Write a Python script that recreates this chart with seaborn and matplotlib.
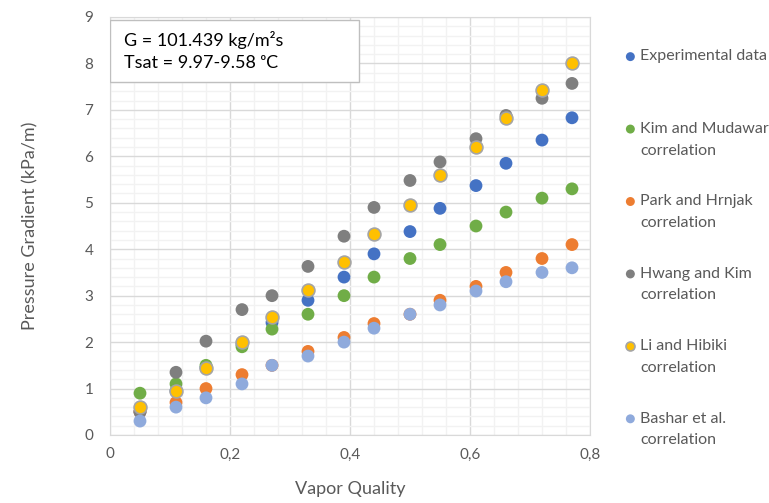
import pandas as pd
import matplotlib.pyplot as plt
import seaborn as sns
from matplotlib.patches import Rectangle
from matplotlib.offsetbox import HPacker
from matplotlib.ticker import MultipleLocator, FuncFormatter

# vapor quality points
quality = [0.05, 0.11, 0.16, 0.22, 0.27, 0.33, 0.39, 0.44, 0.50, 0.55, 0.61, 0.66, 0.72, 0.77]

experimental = [0.50, 0.95, 1.45, 1.95, 2.42, 2.90, 3.40, 3.90, 4.38, 4.88, 5.37, 5.85, 6.35, 6.83]
kim_mudawar = [0.90, 1.10, 1.50, 1.90, 2.28, 2.60, 3.00, 3.40, 3.80, 4.10, 4.50, 4.80, 5.10, 5.30]
park_hrnjak = [0.50, 0.70, 1.00, 1.30, 1.50, 1.80, 2.10, 2.40, 2.60, 2.90, 3.20, 3.50, 3.80, 4.10]
hwang_kim = [0.50, 1.35, 2.02, 2.70, 3.00, 3.63, 4.28, 4.90, 5.48, 5.88, 6.38, 6.88, 7.25, 7.57]
li_hibiki = [0.60, 0.95, 1.45, 2.00, 2.55, 3.12, 3.72, 4.33, 4.95, 5.60, 6.20, 6.82, 7.42, 8.00]
bashar = [0.30, 0.60, 0.80, 1.10, 1.50, 1.70, 2.00, 2.30, 2.60, 2.80, 3.10, 3.30, 3.50, 3.60]

series = {
    "Experimental data\n ": experimental,
    "Kim and Mudawar\ncorrelation": kim_mudawar,
    "Park and Hrnjak\ncorrelation": park_hrnjak,
    "Hwang and Kim\ncorrelation": hwang_kim,
    "Li and Hibiki\ncorrelation": li_hibiki,
    "Bashar et al.\ncorrelation": bashar,
}
colors = ["#4472C4", "#70AD47", "#ED7D31", "#7F7F7F", "#FFC000", "#8FAADC"]
edges = ["none", "none", "none", "none", "#A5A5A5", "none"]

df = pd.DataFrame([
    {"quality": q, "dp": v, "name": name}
    for name, vals in series.items() for q, v in zip(quality, vals)
])

sns.set_style("white")
plt.rcParams['font.family'] = ['Lato', 'DejaVu Sans']
txt = "#595959"

fig = plt.figure(figsize=(7.69, 5.03), dpi=100)
ax = fig.add_axes([110 / 769, 1 - 435 / 503, 480 / 769, 418 / 503])

for (name, _), c, e in zip(series.items(), colors, edges):
    sns.scatterplot(data=df[df["name"] == name], x="quality", y="dp", color=c,
                    edgecolor=e, linewidth=1.2, s=85, label=name, ax=ax, zorder=3)

ax.set_xlim(0, 0.8)
ax.set_ylim(0, 9)
ax.xaxis.set_major_locator(MultipleLocator(0.2))
ax.xaxis.set_minor_locator(MultipleLocator(0.04))
ax.yaxis.set_major_locator(MultipleLocator(1))
ax.yaxis.set_minor_locator(MultipleLocator(0.2))
ax.xaxis.set_major_formatter(FuncFormatter(lambda v, p: "0" if v == 0 else f"{v:.1f}".replace(".", ",")))
ax.grid(which="major", color="#D9D9D9", linewidth=1.0, zorder=1)
ax.grid(which="minor", color="#F2F2F2", linewidth=1.0, zorder=0)
ax.set_axisbelow(True)
for s in ax.spines.values():
    s.set_color("#D9D9D9")
ax.tick_params(which="both", length=0, labelsize=11, colors=txt)
ax.tick_params(axis="y", pad=12)
ax.tick_params(axis="x", pad=9)

ax.set_xlabel("Vapor Quality", fontsize=13, color=txt, labelpad=14)
ax.set_ylabel("Pressure Gradient (kPa/m)", fontsize=13, color=txt, labelpad=33)

# info box
ax.add_patch(Rectangle((0, 1 - 65 / 418), 249 / 480, 62 / 418, transform=ax.transAxes,
                       facecolor="white", edgecolor="#BFBFBF", linewidth=1, zorder=5))
ax.text(14 / 480, 1 - 34 / 418, "G = 101.439 kg/m²s\nTsat = 9.97-9.58 ᵒC", transform=ax.transAxes,
        ha="left", va="center", fontsize=13, color="black", linespacing=1.4, zorder=6)

ax.legend_.remove()
handles, labels = ax.get_legend_handles_labels()
leg = fig.legend(handles, labels, loc="upper left", bbox_to_anchor=(608 / 769, 1 - 35 / 503),
                 frameon=False, fontsize=11.5, labelcolor=txt, labelspacing=2.3,
                 handletextpad=0.1, handlelength=1.0, handleheight=1.0, markerscale=0.7)
for t in leg.get_texts():
    t.set_linespacing(1.7)
# marker next to the first line of each label, like Excel
for col in leg._legend_handle_box.get_children():
    for item in col.get_children():
        if isinstance(item, HPacker):
            item.align = "top"

fig.savefig("out.png", dpi=100)
